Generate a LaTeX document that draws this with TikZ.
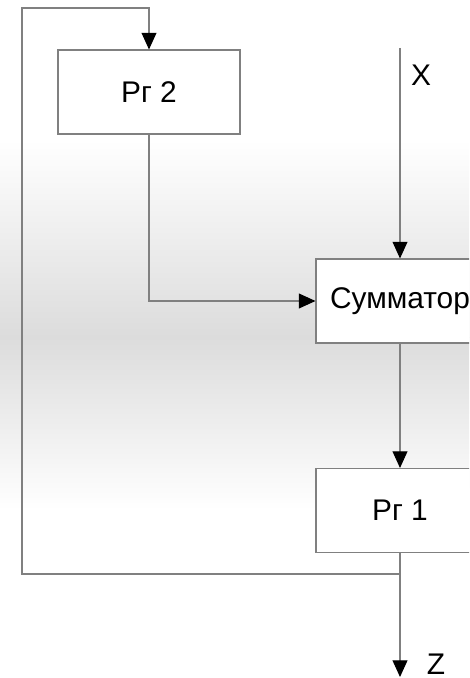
\documentclass[tikz,border=0pt]{standalone}
\usepackage{fontspec}
\setmainfont{Liberation Sans}
\usetikzlibrary{arrows.meta}
\definecolor{bandgray}{HTML}{DCDCDC}
\definecolor{wire}{HTML}{808080}

\begin{document}
\begin{tikzpicture}[
    x=0.02cm,y=-0.02cm,
    line/.style={draw=wire, line width=0.6pt},
    arr/.style={line, -{Triangle[length=9.5pt,width=8.5pt,black]}},
    reg/.style={draw=wire, line width=0.6pt, fill=white, minimum height=1.68cm,
      inner sep=0pt, font=\fontsize{17}{20}\selectfont}
    ]
    \useasboundingbox (0,0) rectangle (469,678);
    \clip (0,0) rectangle (469,678);
    \fill[white] (0,0) rectangle (469,678);
    \shade[top color=white, bottom color=bandgray] (0,140) rectangle (469,337);
    \shade[top color=bandgray, bottom color=white] (0,337) rectangle (469,510);
    \node[reg, minimum width=3.64cm] (rg2) at (149,92) {Рг 2};
    \node[reg, minimum width=3.36cm] (sum) at (400,301) {Сумматор};
    \node[reg, minimum width=3.36cm] (rg1) at (400,510.5) {Рг 1};
    \coordinate (xin) at (400,48);
    \coordinate (zout) at (400,677);
    \coordinate (fork) at (400,574);
    \node[font=\fontsize{17}{20}\selectfont] (xlab) at (421,75) {X};
    \node[font=\fontsize{17}{20}\selectfont] (zlab) at (436,664) {Z};
    \draw[arr] (xin) -- (sum);
    \draw[arr] (rg2.south) |- (sum.west);
    \draw[arr] (sum) -- (rg1);
    \draw[arr] (rg1) -- (zout);
    \draw[arr] (fork) -| (22,8) -| (rg2.north);
  \end{tikzpicture}
\end{document}
